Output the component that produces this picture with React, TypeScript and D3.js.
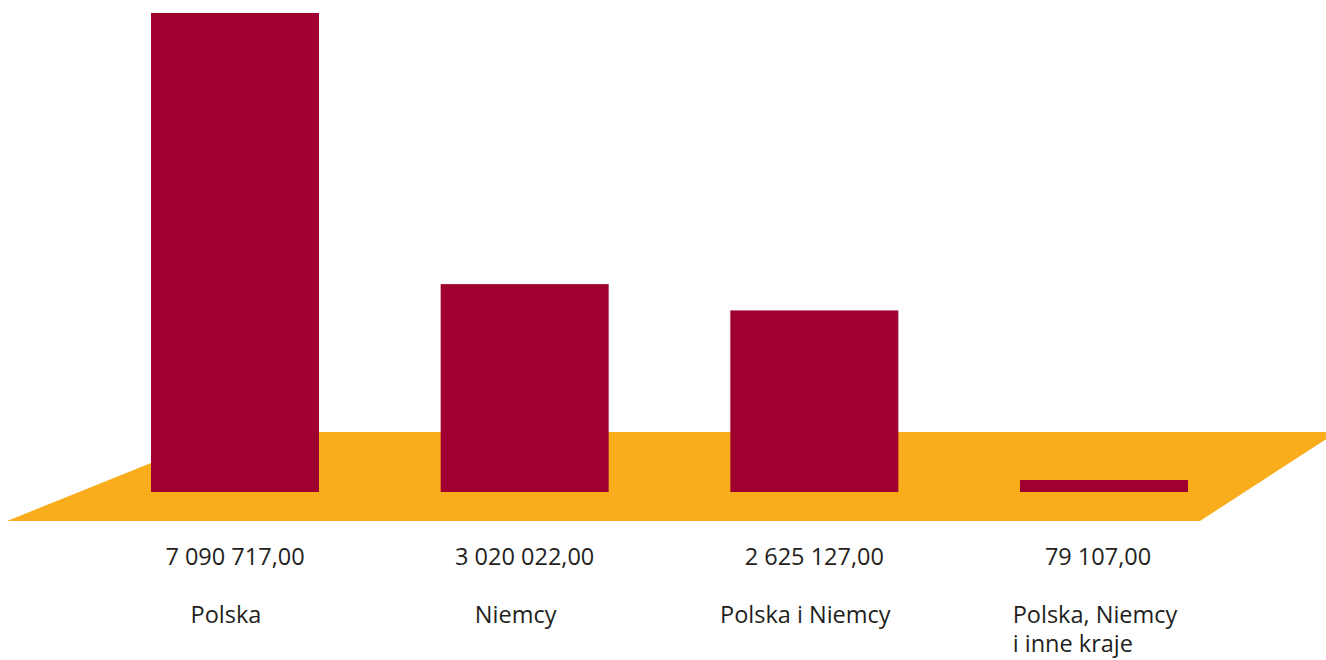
import React, { useEffect, useRef } from "react";
import * as d3 from "d3";

const categories: string[][] = [
  ["Polska"],
  ["Niemcy"],
  ["Polska i Niemcy"],
  ["Polska, Niemcy", "i inne kraje"],
];
const values: number[] = [7090717, 3020022, 2625127, 79107];
const valueLabels: string[] = ["7 090 717,00", "3 020 022,00", "2 625 127,00", "79 107,00"];

const W = 1326;
const H = 660;
const BAR = "#9F0030";
const FLOOR = "#F9AD1C";
const TEXT = "#231F20";
const FONT = "'Open Sans', 'Noto Sans', sans-serif";

export default function App() {
  const ref = useRef<SVGSVGElement | null>(null);

  useEffect(() => {
    const svg = d3.select(ref.current);
    svg.selectAll("*").remove();

    const keys = categories.map((c) => c.join(" "));
    const x = d3.scalePoint<string>().domain(keys).range([235, 1104]);
    const barW = 168;
    const baseY = 492;
    const y = d3.scaleLinear().domain([-101300, d3.max(values) as number]).range([baseY, 13]);

    // floor plane
    const floor: [number, number][] = [
      [7, 521],
      [1200, 521],
      [1337, 432],
      [228, 432],
    ];
    svg
      .append("path")
      .attr("d", "M" + floor.map((p) => p.join(",")).join("L") + "Z")
      .attr("fill", FLOOR);

    // bars
    svg
      .selectAll("rect.bar")
      .data(values)
      .enter()
      .append("rect")
      .attr("class", "bar")
      .attr("x", (_, i) => (x(keys[i]) as number) - barW / 2)
      .attr("width", barW)
      .attr("y", (d) => y(d))
      .attr("height", (d) => baseY - y(d))
      .attr("fill", BAR);

    // value labels
    svg
      .selectAll("text.val")
      .data(valueLabels)
      .enter()
      .append("text")
      .attr("class", "val")
      .attr("x", (_, i) => (x(keys[i]) as number) - (i === 3 ? 6 : 0))
      .attr("y", 565)
      .attr("text-anchor", "middle")
      .attr("font-family", FONT)
      .attr("font-size", 23.5)
      .attr("fill", TEXT)
      .text((d) => d);

    // category labels
    categories.forEach((lines, i) => {
      const cx = (x(keys[i]) as number) - 9;
      const t = svg
        .append("text")
        .attr("font-family", FONT)
        .attr("font-size", 23.5)
        .attr("fill", TEXT)
        .attr("y", 623);
      const first = t.append("tspan").attr("x", 0).text(lines[0]);
      const w = (first.node() as SVGTSpanElement).getComputedTextLength();
      const left = cx - w / 2;
      first.attr("x", left);
      lines.slice(1).forEach((ln) => {
        t.append("tspan").attr("x", left).attr("dy", 29).text(ln);
      });
    });
  }, []);

  return (
    <svg
      ref={ref}
      width={W}
      height={H}
      style={{ position: "absolute", left: 0, top: 0, background: "#fff" }}
    />
  );
}
